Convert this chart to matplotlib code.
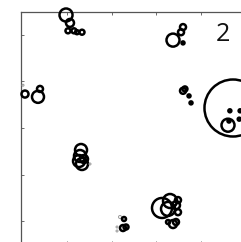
import matplotlib
matplotlib.use("Agg")
import matplotlib.pyplot as plt
import numpy as np

# bubble data (x, y, magnitude); tone: 0 = black, 1 = grey
x = [0.978, 1.067, 1.022, 1.157, 1.225, 1.337,
     3.382, 3.562, 3.607, 3.607,
     0.056, 0.348, 0.393, 0.011,
     4.730, 4.618, 4.640, 4.660, 4.890, 4.870,
     3.607, 3.650, 3.742, 3.787,
     1.315, 1.292, 1.270, 1.337, 1.382, 1.517,
     3.135, 3.315, 3.270, 3.449, 3.494, 3.494, 3.382, 3.270, 3.449,
     2.191, 2.281, 2.258, 2.326, 2.124, 2.124]
y = [5.43, 5.26, 5.09, 5.09, 5.06, 5.06,
     4.89, 5.06, 5.17, 4.83,
     3.73, 3.67, 3.84, 3.92,
     3.43, 3.06, 3.15, 3.37, 3.37, 3.19,
     3.80, 3.84, 3.69, 3.54,
     2.527, 2.398, 2.290, 2.226, 2.333, 2.226,
     1.28, 1.43, 1.26, 1.34, 1.19, 1.45, 0.935, 0.978, 0.978,
     1.086, 1.043, 0.849, 0.871, 0.871, 0.785]
magnitude = [6.5, 4, 2.5, 2.5, 2, 2.5,
             6.5, 3, 3, 1.5,
             3.5, 6, 3, 1,
             28.5, 6.5, 1.5, 1.5, 1.5, 1.5,
             3, 2.5, 1.5, 1.5,
             6, 6, 6, 6, 4, 1,
             10, 7, 7, 4, 3, 3, 4, 2, 3,
             1.5, 2, 3, 2.5, 1, 1]
tone = [0, 0, 0, 0, 0, 0,
        0, 0, 0, 0,
        0, 0, 0, 1,
        0, 0, 0, 0, 0, 0,
        0, 0, 0, 0,
        0, 0, 0, 0, 0, 1,
        0, 0, 0, 0, 0, 0, 0, 0, 0,
        1, 0, 0, 0, 1, 1]
panel_label = "2"

W, H = 241, 242
fig = plt.figure(figsize=(W / 100, H / 100), dpi=100)
left_px, top_px, right_px, bottom_px = 21, 12, 290, 244
ax = fig.add_axes([left_px / W, 1 - bottom_px / H,
                   (right_px - left_px) / W, (bottom_px - top_px) / H])
ax.set_xlim((left_px - 22.5) / 44.5, (right_px - 22.5) / 44.5)
ax.set_ylim((267.5 - bottom_px) / 46.5, (267.5 - top_px) / 46.5)

mag = np.array(magnitude)
s = (1.44 * mag) ** 2
cols = ["#000000" if t == 0 else "#9a9a9a" for t in tone]
lws = [1.8 if t == 0 else 0.7 for t in tone]
ax.scatter(x, y, s=s, facecolors="none", edgecolors=cols, linewidths=lws,
           clip_on=False, zorder=3)

ax.text(4.51, 5.02, panel_label, fontsize=18, family=["Open Sans", "DejaVu Sans"],
        ha="center", va="center", color="#111111")

ax.set_xticks([1, 2, 3, 4, 5])
ax.set_yticks([1, 2, 3, 4, 5])
ax.tick_params(direction="in", length=2.2, width=0.6, color="#555555",
               top=True, bottom=True, left=True, right=False,
               labelbottom=False, labelleft=False)
for side in ["left", "top", "bottom"]:
    ax.spines[side].set_color("#555555")
    ax.spines[side].set_linewidth(0.9)
ax.spines["right"].set_visible(False)

fig.savefig("out.png", dpi=100)
